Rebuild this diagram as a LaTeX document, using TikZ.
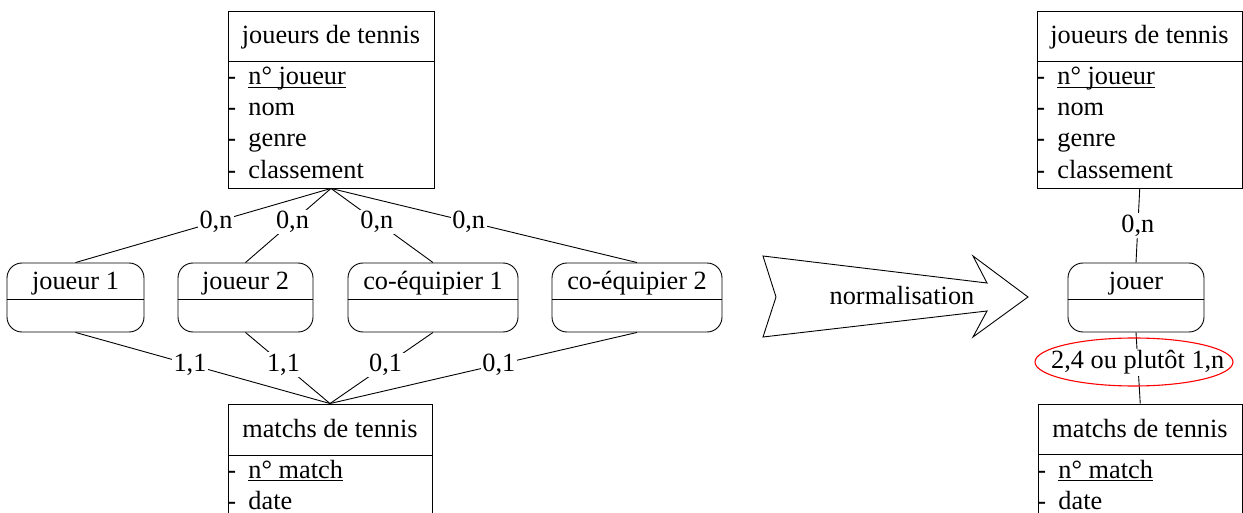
\documentclass[tikz,border=0pt]{standalone}
\usepackage{fontspec}
\setmainfont{Liberation Serif}
\newcommand{\lowul}[1]{{\setbox0\hbox{#1}\rlap{\rule[-3pt]{\wd0}{0.9pt}}\box0}}
\newcommand{\attrline}[1]{\makebox[21pt][l]{-}#1}
\begin{document}
\begin{tikzpicture}[x=1pt,y=-1pt,line width=0.9pt,
  every node/.style={font=\fontsize{26.3}{30}\selectfont},
  ent/.style={draw,rectangle,inner sep=0pt},
  rel/.style={draw,rectangle,rounded corners=15pt,inner sep=0pt,minimum height=69pt},
  lbl/.style={fill=white,inner sep=1.5pt},
  hdr/.style={anchor=base,inner sep=0pt},
  attr/.style={anchor=base west,inner sep=0pt}]
\useasboundingbox (0,0) rectangle (1243,513);
\clip (0,0) rectangle (1243,513);
% ---------- left: entities ----------
\node[ent,minimum width=206pt,minimum height=177pt] (E1) at (331,99.5) {};
\draw (228,61) -- (434,61);
\node[hdr] (E1h) at (331,44) {joueurs de tennis};
\node[attr] (E1a) at (227,85) {\attrline{\lowul{n° joueur}}};
\node[attr] (E1b) at (227,116) {\attrline{nom}};
\node[attr] (E1c) at (227,147) {\attrline{genre}};
\node[attr] (E1d) at (227,179) {\attrline{classement}};

\node[ent,minimum width=204pt,minimum height=140pt] (E2) at (330,474) {};
\draw (228,455) -- (432,455);
\node[hdr] (E2h) at (330,437) {matchs de tennis};
\node[attr] (E2a) at (227,478) {\attrline{\lowul{n° match}}};
\node[attr] (E2b) at (227,509) {\attrline{date}};

% ---------- left: relations ----------
\node[rel,minimum width=137pt] (R1) at (75.5,297.5) {};
\node[rel,minimum width=135pt] (R2) at (245.5,297.5) {};
\node[rel,minimum width=170pt] (R3) at (433,297.5) {};
\node[rel,minimum width=170pt] (R4) at (637,297.5) {};
\foreach \r in {R1,R2,R3,R4}{
  \draw ([yshift=-1.5pt]\r.west) -- ([yshift=-1.5pt]\r.east);
}
\node[hdr] (R1t) at (75.5,290) {joueur 1};
\node[hdr] (R2t) at (245.5,290) {joueur 2};
\node[hdr] (R3t) at (433,290) {co-équipier 1};
\node[hdr] (R4t) at (637,290) {co-équipier 2};

% ---------- left: connectors ----------
\draw (E1.south) -- node[lbl,pos=0.45] {0,n} (R1.north);
\draw (E1.south) -- node[lbl,pos=0.45] {0,n} (R2.north);
\draw (E1.south) -- node[lbl,pos=0.45] {0,n} (R3.north);
\draw (E1.south) -- node[lbl,pos=0.45] {0,n} (R4.north);
\draw (R1.south) -- node[lbl,pos=0.45] {1,1} (E2.north);
\draw (R2.south) -- node[lbl,pos=0.45] {1,1} (E2.north);
\draw (R3.south) -- node[lbl,pos=0.46] {0,1} (E2.north);
\draw (R4.south) -- node[lbl,pos=0.45] {0,1} (E2.north);

% ---------- arrow ----------
\draw (763,256) -- (987,283) -- (973,256) -- (1028,297) -- (973,337)
  -- (987,311) -- (763,337) -- (776,297) -- cycle;
\node[hdr] (norm) at (902,305) {normalisation};

% ---------- right ----------
\node[ent,minimum width=205.5pt,minimum height=177pt] (E3) at (1139.75,99.5) {};
\draw (1037,61) -- (1242.5,61);
\node[hdr] (E3h) at (1139.5,44) {joueurs de tennis};
\node[attr] (E3a) at (1036,85) {\attrline{\lowul{n° joueur}}};
\node[attr] (E3b) at (1036,116) {\attrline{nom}};
\node[attr] (E3c) at (1036,147) {\attrline{genre}};
\node[attr] (E3d) at (1036,179) {\attrline{classement}};

\node[ent,minimum width=204.5pt,minimum height=140pt] (E4) at (1140.25,474) {};
\draw (1038,454) -- (1242.5,454);
\node[hdr] (E4h) at (1140,437) {matchs de tennis};
\node[attr] (E4a) at (1037,478) {\attrline{\lowul{n° match}}};
\node[attr] (E4b) at (1037,509) {\attrline{date}};

\node[rel,minimum width=136pt] (R5) at (1136,297.5) {};
\draw ([yshift=-1.5pt]R5.west) -- ([yshift=-1.5pt]R5.east);
\node[hdr] (R5t) at (1136,290) {jouer};

\draw (E3.south) -- node[lbl,pos=0.5] {0,n} (R5.north);
\draw (R5.south) -- node[lbl,pos=0.42] (card) {2,4 ou plutôt 1,n} (E4.north);
\draw[red,line width=1.1pt] (1134,362) ellipse (99 and 24);
\end{tikzpicture}
\end{document}
